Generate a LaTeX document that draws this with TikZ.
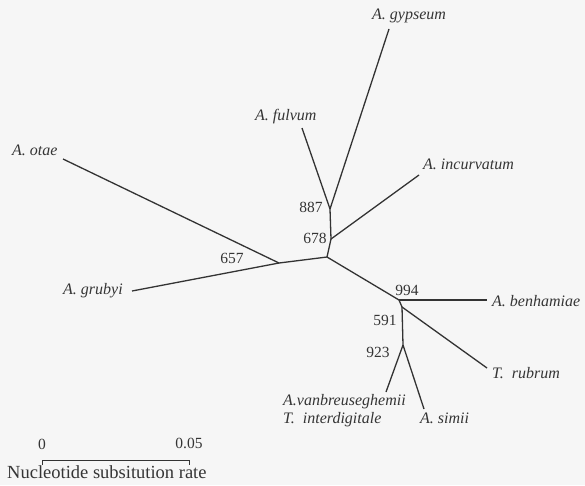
\documentclass[tikz,border=0pt]{standalone}
\usepackage{fontspec}
\setmainfont{Liberation Serif}
\definecolor{ink}{HTML}{333333}
\definecolor{txt}{HTML}{353535}
\definecolor{bg}{HTML}{F6F6F6}
\begin{document}
\begin{tikzpicture}[x=1pt,y=-1pt,
  branch/.style={draw=ink,line width=1.3pt},
  taxon/.style={inner sep=0pt,text=txt,font=\fontsize{16}{18}\selectfont\itshape,anchor=mid west},
  boot/.style={inner sep=0pt,text=txt,font=\fontsize{15.5}{18}\selectfont,anchor=center},
  scaletxt/.style={inner sep=0pt,text=txt,font=\fontsize{18.5}{20}\selectfont,anchor=mid west}]
\fill[bg] (0,0) rectangle (585,485);
\useasboundingbox (0,0) rectangle (585,485);
% internal nodes
\coordinate (n657) at (279,263);
\coordinate (c) at (327,257);
\coordinate (n678) at (331,239);
\coordinate (n887) at (330,209);
\coordinate (n994) at (399,300);
\coordinate (n591) at (402,307);
\coordinate (n923) at (403,345);
% tips
\coordinate (totae) at (63,159);
\coordinate (tgrubyi) at (132,291);
\coordinate (tfulvum) at (302,128);
\coordinate (tgypseum) at (389,29);
\coordinate (tincurv) at (419,175);
\coordinate (tbenh) at (487,300);
\coordinate (trubrum) at (487,368);
\coordinate (tvanb) at (386,392);
\coordinate (tsimii) at (424,409);
% branches
\draw[branch] (totae) -- (n657);
\draw[branch] (tgrubyi) -- (n657);
\draw[branch] (n657) -- (c);
\draw[branch] (c) -- (n678);
\draw[branch] (n678) -- (n887);
\draw[branch] (n887) -- (tfulvum);
\draw[branch] (n887) -- (tgypseum);
\draw[branch] (n678) -- (tincurv);
\draw[branch] (c) -- (n994);
\draw[branch] (n994) -- (tbenh);
\draw[branch] (n994) -- (n591);
\draw[branch] (n591) -- (trubrum);
\draw[branch] (n591) -- (n923);
\draw[branch] (n923) -- (tvanb);
\draw[branch] (n923) -- (tsimii);
% taxon labels
\node[taxon] (lotae) at (12,153) {A. otae};
\node[taxon] (lgrubyi) at (63,292) {A. grubyi};
\node[taxon] (lfulvum) at (255,118) {A. fulvum};
\node[taxon] (lgypseum) at (372,17) {A. gypseum};
\node[taxon] (lincurv) at (423,167) {A. incurvatum};
\node[taxon] (lbenh) at (492,304) {A. benhamiae};
\node[taxon] (lrubrum) at (492,376) {T.\ \ rubrum};
\node[taxon] (lvanb) at (283,403) {A.vanbreuseghemii};
\node[taxon] (linter) at (283,421) {T.\ \ interdigitale};
\node[taxon] (lsimii) at (420,421) {A. simii};
% bootstrap values
\node[boot] (b657) at (232,258) {657};
\node[boot] (b678) at (315,238) {678};
\node[boot] (b887) at (311,207) {887};
\node[boot] (b994) at (407,290) {994};
\node[boot] (b591) at (385,320) {591};
\node[boot] (b923) at (378,352) {923};
% scale bar
\coordinate (s0) at (42,460);
\coordinate (s1) at (189,460);
\draw[draw=ink,line width=1pt] ([yshift=-5pt]s0) -- (s0) -- (s1) -- ([yshift=-5pt]s1);
\node[boot] (l0) at (42,444) {0};
\node[boot] (l005) at (189,443) {0.05};
\node[scaletxt] (lrate) at (7,476) {Nucleotide subsitution rate};
\end{tikzpicture}
\end{document}
